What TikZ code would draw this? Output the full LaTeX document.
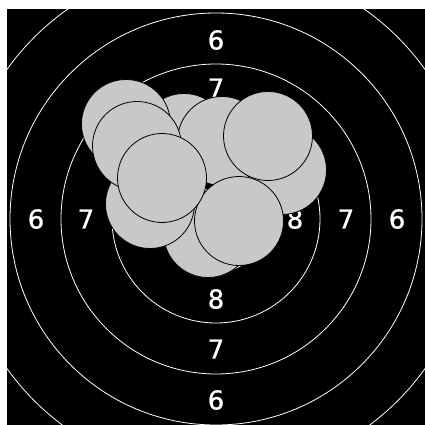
\documentclass[tikz,border=0pt]{standalone}
\usepackage{fontspec}
\newfontfamily\labfont{DejaVu Sans}[FakeBold=1]
\definecolor{shotgray}{HTML}{C8C8C8}
\tikzset{
  ring/.style={draw=white, line width=0.8pt},
  shot/.style={circle, draw=black, fill=shotgray, line width=0.8pt, minimum size=89pt, inner sep=0pt},
  lab/.style={text=white, font=\labfont\fontsize{26}{26}\selectfont, inner sep=0pt}
}
\begin{document}
\begin{tikzpicture}[x=1pt,y=-1pt]
\useasboundingbox (0,0) rectangle (425,425);
\fill[black] (7,9) rectangle (425,425);
\begin{scope}
\clip (7,9) rectangle (425,425);
\coordinate (c) at (216,219);
\foreach \r in {53,104,155,206,257} \draw[ring] (c) circle[radius=\r];
\end{scope}
% labels
\node[lab] (t6) at (216,40) {6};
\node[lab] (t7) at (216,88) {7};
\node[lab] (l6) at (36,219) {6};
\node[lab] (l7) at (86,219) {7};
\node[lab] (r8) at (295,219) {8};
\node[lab] (r7) at (346,219) {7};
\node[lab] (r6) at (397,219) {6};
\node[lab] (b8) at (216,299) {8};
\node[lab] (b7) at (216,349) {7};
\node[lab] (b6) at (216,400) {6};
% shots
\node[shot] (sB) at (184,138) {};
\node[shot] (sA) at (126,124) {};
\node[shot] (sE) at (282,170) {};
\node[shot] (sC) at (222,141) {};
\node[shot] (sD) at (268,136) {};
\node[shot] (sI) at (208,233) {};
\node[shot] (sH) at (150,204) {};
\node[shot] (sF) at (137,146) {};
\node[shot] (sJ) at (239,221) {};
\node[shot] (sG) at (162,178) {};
\end{tikzpicture}
\end{document}
